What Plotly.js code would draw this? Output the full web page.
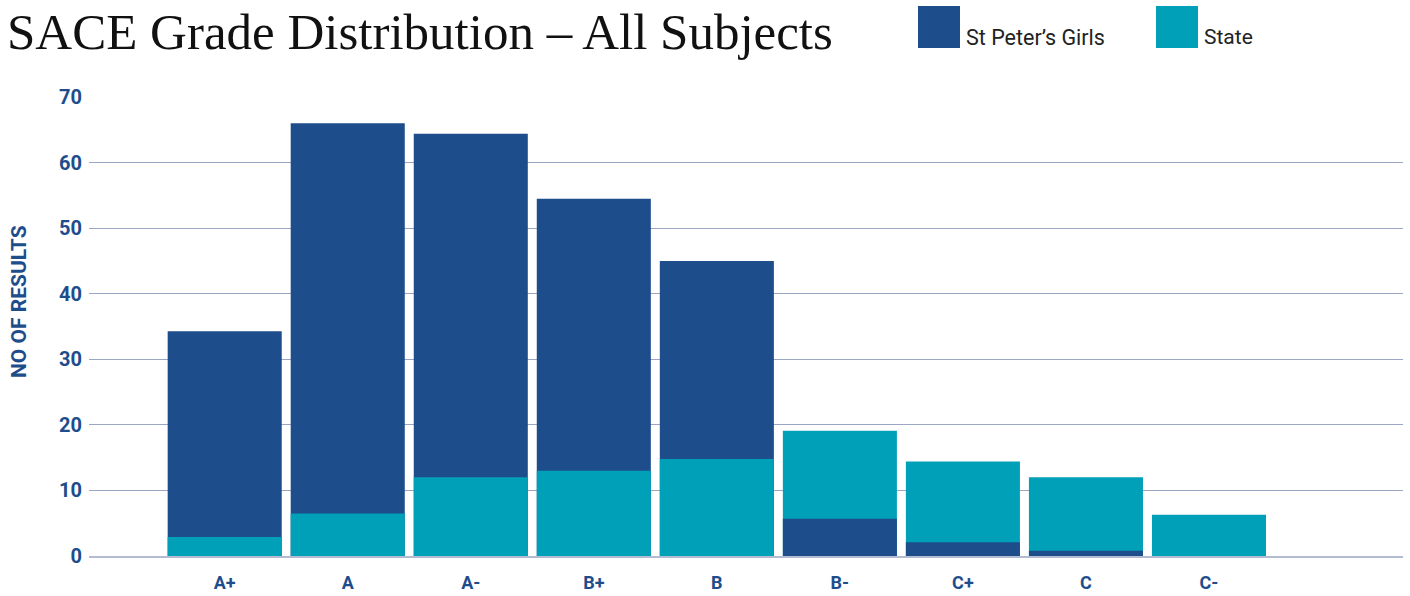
<!DOCTYPE html>
<html>
<head>
<meta charset="utf-8">
<script src="https://cdn.plot.ly/plotly-3.0.1.min.js"></script>
<style>html,body{margin:0;padding:0;background:#fff;}#chart{width:1410px;height:596px;}</style>
</head>
<body>
<div id="chart"></div>
<script>
const categories = ['A+', 'A', 'A-', 'B+', 'B', 'B-', 'C+', 'C', 'C-'];
const spgValues = [34.3, 66.0, 64.4, 54.5, 45.0, 5.7, 2.1, 0.8, 0];
const stateValues = [2.9, 6.5, 12.0, 13.0, 14.8, 19.1, 14.4, 12.0, 6.3];
const yTicks = [0, 10, 20, 30, 40, 50, 60, 70];
const seriesNames = ['St Peter\u2019s Girls', 'State'];

const DARK = '#1e4d8c';
const TEAL = '#00a0b8';
const GRID = '#9ba6c4';

const W = 1410, H = 596;
const M = {l: 89, r: 7, t: 97, b: 40};
const PW = W - M.l - M.r, PH = H - M.t - M.b;
const px = x => (x - M.l) / PW;
const py = y => 1 - (y - M.t) / PH;

// split each series into a "back" (taller) and "front" (shorter) part so the shorter bar is always visible
const spgBack = spgValues.map((v, i) => v >= stateValues[i] ? v : null);
const stateBack = stateValues.map((v, i) => v > spgValues[i] ? v : null);
const spgFront = spgValues.map((v, i) => v < stateValues[i] ? v : null);
const stateFront = stateValues.map((v, i) => v <= spgValues[i] ? v : null);

const barW = 0.927;
function bar(vals, color, name, show) {
  return {type: 'bar', x: categories, y: vals, width: barW, name: name,
    legendgroup: name, showlegend: show, marker: {color: color, line: {width: 0}},
    hoverinfo: 'x+y+name'};
}
const data = [
  bar(spgBack, DARK, seriesNames[0], true),
  bar(stateBack, TEAL, seriesNames[1], true),
  bar(spgFront, DARK, seriesNames[0], false),
  bar(stateFront, TEAL, seriesNames[1], false)
];

const layout = {
  width: W, height: H,
  margin: M,
  paper_bgcolor: '#fff', plot_bgcolor: '#fff',
  barmode: 'overlay',
  showlegend: false,
  title: {text: 'SACE Grade Distribution \u2013 All Subjects',
    font: {family: 'Liberation Serif, serif', size: 51, color: '#111'},
    x: 7 / W, xref: 'container', xanchor: 'left',
    y: 1 - 31 / H, yref: 'container', yanchor: 'middle'},
  xaxis: {type: 'category', range: [-1.103, 9.577], showgrid: false, zeroline: false,
    showline: true, linecolor: '#b4bcd3', linewidth: 2, ticks: '',
    tickfont: {family: 'Roboto, sans-serif', size: 18, color: DARK, weight: 'bold'},
    ticklabelstandoff: 9, fixedrange: true},
  yaxis: {range: [0, 70.02], tickvals: yTicks, showgrid: true, gridcolor: GRID, gridwidth: 1,
    zeroline: false, showline: false, ticks: '',
    tickfont: {family: 'Roboto, sans-serif', size: 20, color: DARK, weight: 'bold'},
    ticklabelstandoff: 6, fixedrange: true},
  shapes: [
    {type: 'rect', xref: 'paper', yref: 'paper', x0: px(918), x1: px(960), y0: py(6), y1: py(48),
      fillcolor: DARK, line: {width: 0}},
    {type: 'rect', xref: 'paper', yref: 'paper', x0: px(1156), x1: px(1198), y0: py(6), y1: py(48),
      fillcolor: TEAL, line: {width: 0}}
  ],
  annotations: [
    {text: seriesNames[0], xref: 'paper', yref: 'paper', x: px(964), y: py(38), xanchor: 'left', yanchor: 'middle',
      showarrow: false, font: {family: 'Roboto, sans-serif', size: 21.5, color: '#222'}},
    {text: seriesNames[1], xref: 'paper', yref: 'paper', x: px(1202), y: py(37), xanchor: 'left', yanchor: 'middle',
      showarrow: false, font: {family: 'Roboto, sans-serif', size: 21, color: '#222'}},
    {text: 'NO OF RESULTS', xref: 'paper', yref: 'paper', x: px(19), y: py(302), xanchor: 'center', yanchor: 'middle',
      textangle: -90, showarrow: false, font: {family: 'Roboto, sans-serif', size: 21, color: DARK, weight: 'bold'}}
  ]
};

Plotly.newPlot('chart', data, layout, {displayModeBar: false, staticPlot: true});
</script>
</body>
</html>
